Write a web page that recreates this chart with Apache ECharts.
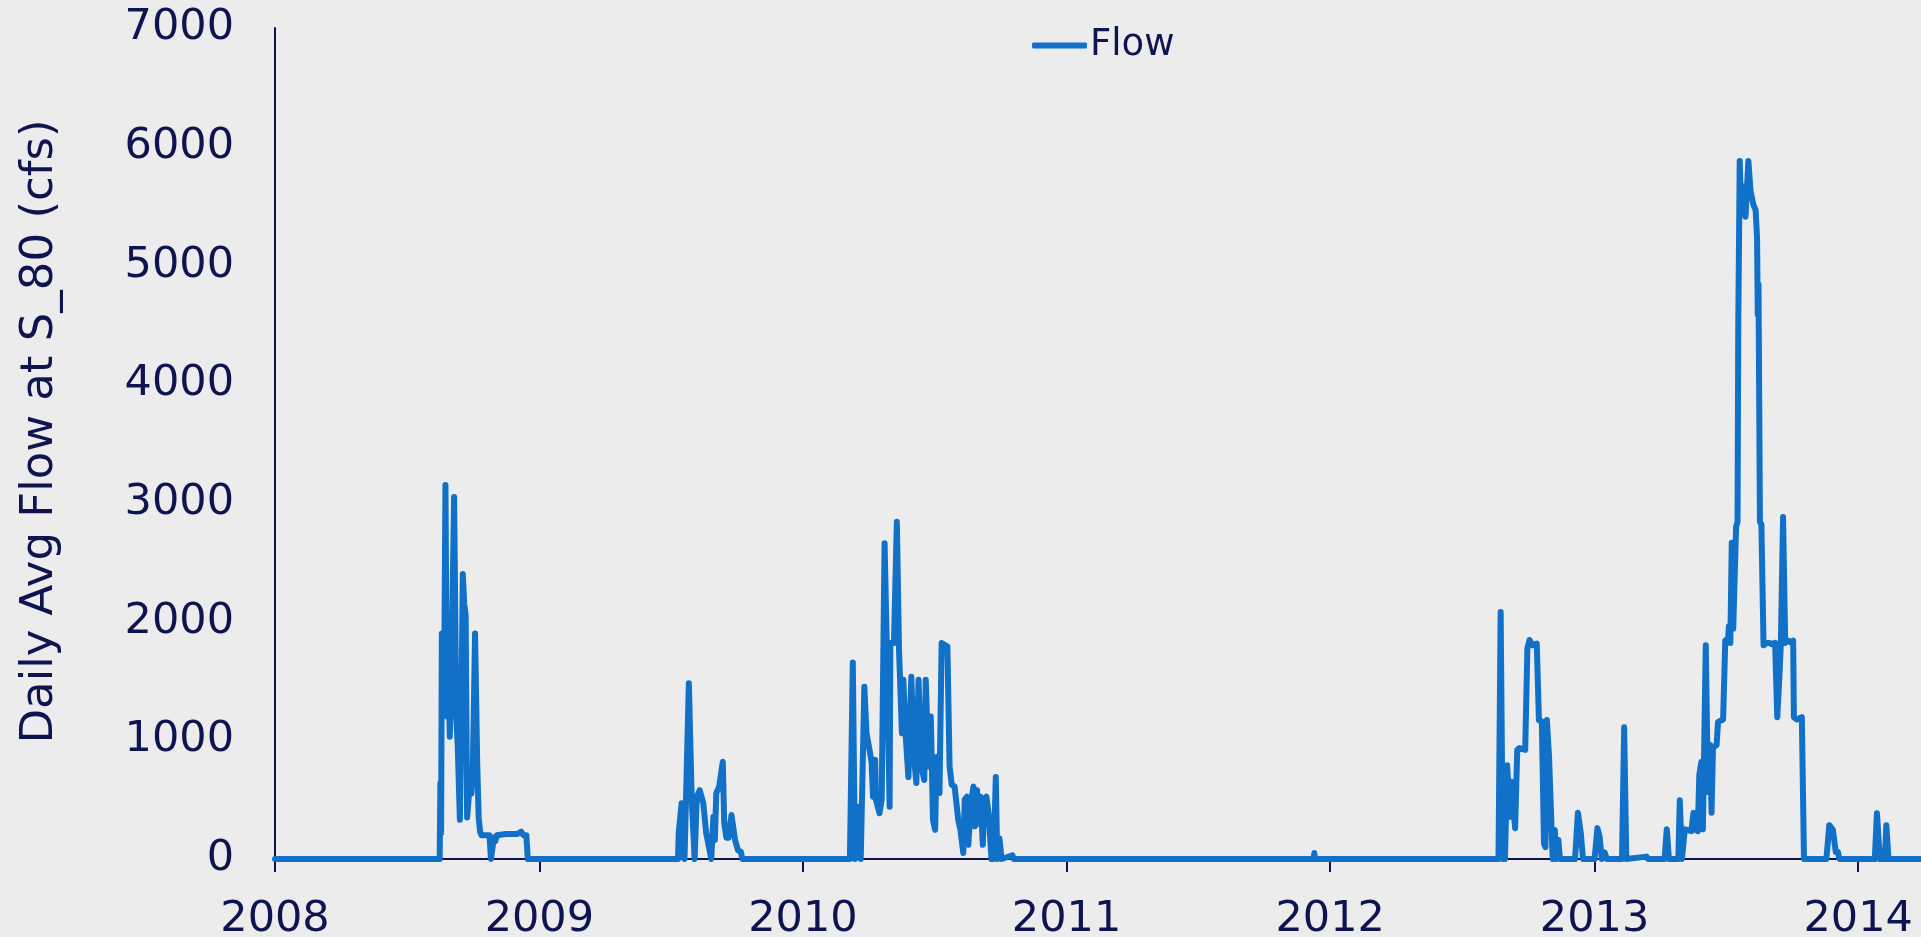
<!DOCTYPE html>
<html>
<head>
<meta charset="utf-8">
<title>Daily Avg Flow at S_80</title>
<script src="https://cdn.jsdelivr.net/npm/echarts@6/dist/echarts.min.js"></script>
<style>
  html, body { margin: 0; padding: 0; background: #ececec; }
  #chart { width: 1921px; height: 937px; }
</style>
</head>
<body>
<div id="chart"></div>
<script>
// flow readings as [days since 2008-01-01, cfs], one list per wet spell
const startDate = '2008-01-01'
const endDay = 2279

const flow2008 = [[0,0],[228,0],[229,640],[230,220],[231,1900],[234,1300],[236,3150],[238,1200],[240,1700],[242,1030],[244,1500],[248,3050],[251,1200],[253,950],[256,330],[258,1200],[260,2400],[262,2150],[264,2050],[266,350],[268,500],[270,700],[272,550],[274,800],[277,1900],[280,800],[282,350],[284,230],[286,200],[297,200],[299,0],[301,0],[303,180],[305,150],[307,200],[320,210],[335,210],[341,230],[344,200],[348,200],[350,0]]

const flow2009 = [[558,0],[559,220],[561,345],[563,470],[565,20],[567,0],[573,1480],[577,500],[581,0],[584,525],[588,580],[593,470],[597,220],[604,0],[607,355],[609,160],[611,555],[615,610],[620,820],[622,300],[625,180],[628,180],[632,370],[637,160],[641,75],[645,60],[647,0]]

const flow2010 = [[796,0],[800,1655],[803,0],[808,440],[811,0],[816,1450],[819,1060],[824,890],[826,810],[828,525],[831,835],[832,500],[837,385],[840,500],[844,2660],[847,1820],[851,440],[852,1820],[857,1820],[861,2840],[864,1760],[868,1060],[870,1510],[873,1060],[877,690],[881,1535],[885,835],[888,640],[891,1510],[895,780],[899,665],[901,1510],[905,780],[908,1200],[911,330],[914,245],[916,860],[920,555],[923,1820],[928,1800],[931,1790],[934,780],[937,625],[941,610],[946,330],[949,245],[953,50],[955,500],[958,525],[960,120],[963,440],[967,610],[969,275],[972,580],[974,300],[977,525],[980,120],[982,500],[985,525],[988,385],[992,0],[995,0],[998,690],[1000,0],[1003,175],[1006,0],[1021,30],[1023,0]]

const flow2011 = [[1438,0],[1439,50],[1440,0]]

const flow2012 = [[1694,0],[1697,2080],[1700,0],[1703,0],[1706,790],[1710,355],[1712,650],[1717,260],[1720,920],[1723,935],[1731,920],[1734,1775],[1737,1845],[1741,1800],[1747,1815],[1750,1170],[1754,1160],[1757,130],[1759,100],[1761,1170],[1764,860],[1766,860],[1769,0],[1772,245],[1774,0],[1777,160],[1779,0],[1800,0],[1804,390],[1808,215],[1811,0],[1827,0],[1831,260],[1834,190],[1837,0],[1841,55],[1844,0],[1865,0],[1868,1110],[1871,0],[1899,20],[1901,0]]

const flow2013 = [[1924,0],[1927,250],[1930,0],[1943,0],[1945,495],[1948,0],[1952,250],[1961,235],[1964,390],[1966,250],[1970,235],[1972,705],[1975,820],[1977,250],[1981,1800],[1984,565],[1987,960],[1989,390],[1991,940],[1996,960],[1998,1155],[2005,1175],[2008,1840],[2012,1860],[2013,1960],[2015,1820],[2017,2665],[2019,1940],[2021,1940],[2023,2800],[2025,2840],[2026,4490],[2028,5880],[2030,5430],[2033,5665],[2036,5410],[2040,5880],[2043,5625],[2047,5510],[2050,5470],[2052,5235],[2053,4585],[2054,4840],[2056,2840],[2058,2820],[2061,1800],[2065,1820],[2069,1820],[2072,1810],[2077,1820],[2080,1195],[2083,1545],[2085,1820],[2088,2880],[2091,1820],[2095,1840],[2100,1820],[2102,1840],[2103,1195],[2107,1175],[2114,1195],[2117,0]]

const flow2014 = [[2148,0],[2152,285],[2157,245],[2159,245],[2161,60],[2164,60],[2166,0],[2215,0],[2218,385],[2222,0],[2229,0],[2231,285],[2234,0],[2279,0]]

const yTicks = [0, 1000, 2000, 3000, 4000, 5000, 6000, 7000]

const DAY = 24 * 3600 * 1000
const t0 = new Date(startDate + 'T00:00:00').getTime()

const flowData = [].concat(flow2008, flow2009, flow2010, flow2011, flow2012, flow2013, flow2014)
  .map((p) => [t0 + p[0] * DAY, p[1]])

const navy = '#0e1450'
const blue = '#1170c8'

const myChart = echarts.init(document.getElementById('chart'))

const option = {
  backgroundColor: '#ececec',
  animation: false,
  grid: {
    left: 275,
    right: 0,
    top: 28,
    bottom: 78,
    outerBoundsMode: 'none'
  },
  legend: {
    left: 1027,
    top: 22,
    icon: 'roundRect',
    itemWidth: 55,
    itemHeight: 6,
    itemGap: 4,
    textStyle: { fontFamily: 'DejaVu Sans', fontSize: 37, color: navy, padding: [0, 0, 0, -2] },
    data: ['Flow']
  },
  xAxis: {
    type: 'time',
    min: t0,
    max: t0 + endDay * DAY,
    splitNumber: 6,
    minInterval: 365 * DAY,
    axisLine: { show: true, lineStyle: { color: navy, width: 2 } },
    axisTick: { show: true, length: 13, lineStyle: { color: navy, width: 2 } },
    axisLabel: {
      margin: 39,
      fontFamily: 'DejaVu Sans',
      fontSize: 43,
      color: navy,
      formatter: (v) => String(new Date(v).getFullYear())
    },
    splitLine: { show: false }
  },
  yAxis: {
    type: 'value',
    min: yTicks[0],
    max: yTicks[yTicks.length - 1],
    interval: 1000,
    name: 'Daily Avg Flow at S_80 (cfs)',
    nameLocation: 'middle',
    nameGap: 212,
    nameTextStyle: { fontFamily: 'DejaVu Sans', fontSize: 45, color: navy, padding: [0, 0, 0, 24] },
    axisLine: { show: true, lineStyle: { color: navy, width: 2 } },
    axisTick: { show: false },
    axisLabel: {
      margin: 41,
      fontFamily: 'DejaVu Sans',
      fontSize: 43,
      color: navy,
      formatter: (v) => String(v)
    },
    splitLine: { show: false }
  },
  series: [
    {
      name: 'Flow',
      type: 'line',
      data: flowData,
      showSymbol: false,
      symbol: 'none',
      lineStyle: { color: blue, width: 6, join: 'round', cap: 'round' },
      itemStyle: { color: blue }
    }
  ]
}

myChart.setOption(option)

window.addEventListener('resize', () => {
  myChart.resize()
})
</script>
</body>
</html>
